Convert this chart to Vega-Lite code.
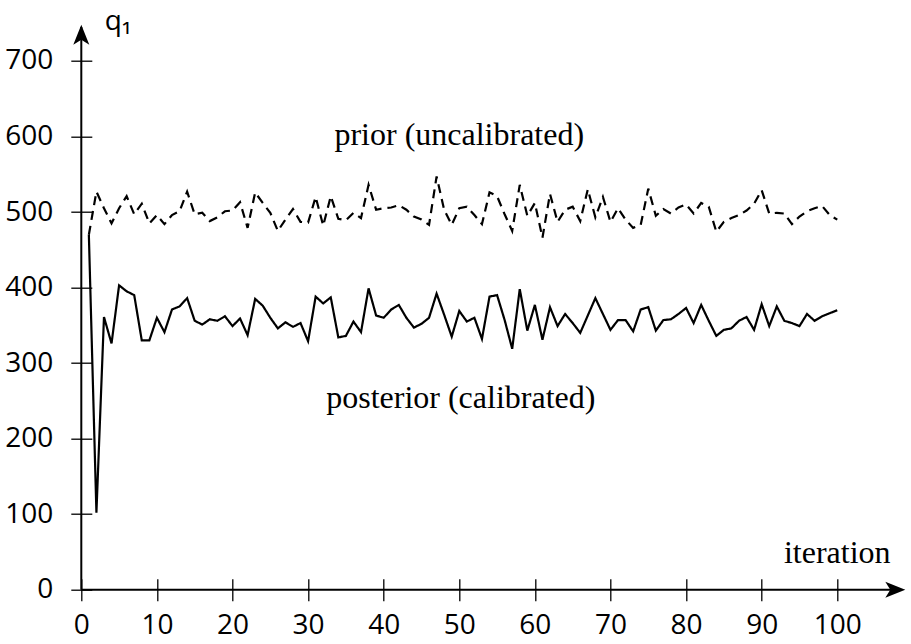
{
 "$schema": "https://vega.github.io/schema/vega-lite/v6.json",
 "width": 824,
 "height": 565,
 "autosize": {"type": "none"},
 "padding": {"left": 81.3, "top": 24.7, "right": 5.7, "bottom": 54.3},
 "background": "white",
 "config": {"view": {"stroke": null}},
 "layer": [
  {
   "data": {"values": [
    {"i":1,"s":"prior","v":470},{"i":2,"s":"prior","v":527},{"i":3,"s":"prior","v":505},{"i":4,"s":"prior","v":485},{"i":5,"s":"prior","v":505},
    {"i":6,"s":"prior","v":521},{"i":7,"s":"prior","v":497},{"i":8,"s":"prior","v":511},{"i":9,"s":"prior","v":485},{"i":10,"s":"prior","v":496},
    {"i":11,"s":"prior","v":484},{"i":12,"s":"prior","v":496},{"i":13,"s":"prior","v":501},{"i":14,"s":"prior","v":527},{"i":15,"s":"prior","v":497},
    {"i":16,"s":"prior","v":499},{"i":17,"s":"prior","v":488},{"i":18,"s":"prior","v":493},{"i":19,"s":"prior","v":501},{"i":20,"s":"prior","v":502},
    {"i":21,"s":"prior","v":513},{"i":22,"s":"prior","v":479},{"i":23,"s":"prior","v":526},{"i":24,"s":"prior","v":512},{"i":25,"s":"prior","v":499},
    {"i":26,"s":"prior","v":475},{"i":27,"s":"prior","v":490},{"i":28,"s":"prior","v":504},{"i":29,"s":"prior","v":487},{"i":30,"s":"prior","v":486},
    {"i":31,"s":"prior","v":520},{"i":32,"s":"prior","v":482},{"i":33,"s":"prior","v":521},{"i":34,"s":"prior","v":491},{"i":35,"s":"prior","v":489},
    {"i":36,"s":"prior","v":499},{"i":37,"s":"prior","v":492},{"i":38,"s":"prior","v":536},{"i":39,"s":"prior","v":503},{"i":40,"s":"prior","v":505},
    {"i":41,"s":"prior","v":506},{"i":42,"s":"prior","v":509},{"i":43,"s":"prior","v":503},{"i":44,"s":"prior","v":494},{"i":45,"s":"prior","v":490},
    {"i":46,"s":"prior","v":483},{"i":47,"s":"prior","v":547},{"i":48,"s":"prior","v":503},{"i":49,"s":"prior","v":483},{"i":50,"s":"prior","v":505},
    {"i":51,"s":"prior","v":507},{"i":52,"s":"prior","v":496},{"i":53,"s":"prior","v":484},{"i":54,"s":"prior","v":526},{"i":55,"s":"prior","v":521},
    {"i":56,"s":"prior","v":497},{"i":57,"s":"prior","v":475},{"i":58,"s":"prior","v":536},{"i":59,"s":"prior","v":495},{"i":60,"s":"prior","v":512},
    {"i":61,"s":"prior","v":466},{"i":62,"s":"prior","v":524},{"i":63,"s":"prior","v":487},{"i":64,"s":"prior","v":503},{"i":65,"s":"prior","v":507},
    {"i":66,"s":"prior","v":488},{"i":67,"s":"prior","v":530},{"i":68,"s":"prior","v":493},{"i":69,"s":"prior","v":520},{"i":70,"s":"prior","v":487},
    {"i":71,"s":"prior","v":505},{"i":72,"s":"prior","v":490},{"i":73,"s":"prior","v":479},{"i":74,"s":"prior","v":483},{"i":75,"s":"prior","v":531},
    {"i":76,"s":"prior","v":495},{"i":77,"s":"prior","v":504},{"i":78,"s":"prior","v":498},{"i":79,"s":"prior","v":506},{"i":80,"s":"prior","v":510},
    {"i":81,"s":"prior","v":498},{"i":82,"s":"prior","v":512},{"i":83,"s":"prior","v":507},{"i":84,"s":"prior","v":474},{"i":85,"s":"prior","v":487},
    {"i":86,"s":"prior","v":492},{"i":87,"s":"prior","v":496},{"i":88,"s":"prior","v":502},{"i":89,"s":"prior","v":511},{"i":90,"s":"prior","v":529},
    {"i":91,"s":"prior","v":498},{"i":92,"s":"prior","v":499},{"i":93,"s":"prior","v":498},{"i":94,"s":"prior","v":484},{"i":95,"s":"prior","v":494},
    {"i":96,"s":"prior","v":501},{"i":97,"s":"prior","v":505},{"i":98,"s":"prior","v":508},{"i":99,"s":"prior","v":496},{"i":100,"s":"prior","v":490},
    {"i":1,"s":"posterior","v":470},{"i":2,"s":"posterior","v":102},{"i":3,"s":"posterior","v":361},{"i":4,"s":"posterior","v":326},{"i":5,"s":"posterior","v":403},
    {"i":6,"s":"posterior","v":395},{"i":7,"s":"posterior","v":390},{"i":8,"s":"posterior","v":330},{"i":9,"s":"posterior","v":330},{"i":10,"s":"posterior","v":360},
    {"i":11,"s":"posterior","v":341},{"i":12,"s":"posterior","v":371},{"i":13,"s":"posterior","v":375},{"i":14,"s":"posterior","v":386},{"i":15,"s":"posterior","v":356},
    {"i":16,"s":"posterior","v":351},{"i":17,"s":"posterior","v":358},{"i":18,"s":"posterior","v":356},{"i":19,"s":"posterior","v":362},{"i":20,"s":"posterior","v":349},
    {"i":21,"s":"posterior","v":359},{"i":22,"s":"posterior","v":337},{"i":23,"s":"posterior","v":385},{"i":24,"s":"posterior","v":376},{"i":25,"s":"posterior","v":360},
    {"i":26,"s":"posterior","v":346},{"i":27,"s":"posterior","v":354},{"i":28,"s":"posterior","v":348},{"i":29,"s":"posterior","v":353},{"i":30,"s":"posterior","v":329},
    {"i":31,"s":"posterior","v":388},{"i":32,"s":"posterior","v":379},{"i":33,"s":"posterior","v":387},{"i":34,"s":"posterior","v":334},{"i":35,"s":"posterior","v":336},
    {"i":36,"s":"posterior","v":355},{"i":37,"s":"posterior","v":341},{"i":38,"s":"posterior","v":399},{"i":39,"s":"posterior","v":363},{"i":40,"s":"posterior","v":360},
    {"i":41,"s":"posterior","v":371},{"i":42,"s":"posterior","v":377},{"i":43,"s":"posterior","v":360},{"i":44,"s":"posterior","v":347},{"i":45,"s":"posterior","v":352},
    {"i":46,"s":"posterior","v":360},{"i":47,"s":"posterior","v":392},{"i":48,"s":"posterior","v":364},{"i":49,"s":"posterior","v":335},{"i":50,"s":"posterior","v":369},
    {"i":51,"s":"posterior","v":355},{"i":52,"s":"posterior","v":360},{"i":53,"s":"posterior","v":332},{"i":54,"s":"posterior","v":388},{"i":55,"s":"posterior","v":390},
    {"i":56,"s":"posterior","v":357},{"i":57,"s":"posterior","v":319},{"i":58,"s":"posterior","v":398},{"i":59,"s":"posterior","v":343},{"i":60,"s":"posterior","v":377},
    {"i":61,"s":"posterior","v":331},{"i":62,"s":"posterior","v":374},{"i":63,"s":"posterior","v":349},{"i":64,"s":"posterior","v":365},{"i":65,"s":"posterior","v":353},
    {"i":66,"s":"posterior","v":340},{"i":67,"s":"posterior","v":363},{"i":68,"s":"posterior","v":386},{"i":69,"s":"posterior","v":365},{"i":70,"s":"posterior","v":344},
    {"i":71,"s":"posterior","v":357},{"i":72,"s":"posterior","v":357},{"i":73,"s":"posterior","v":342},{"i":74,"s":"posterior","v":371},{"i":75,"s":"posterior","v":374},
    {"i":76,"s":"posterior","v":343},{"i":77,"s":"posterior","v":357},{"i":78,"s":"posterior","v":358},{"i":79,"s":"posterior","v":365},{"i":80,"s":"posterior","v":373},
    {"i":81,"s":"posterior","v":353},{"i":82,"s":"posterior","v":377},{"i":83,"s":"posterior","v":356},{"i":84,"s":"posterior","v":336},{"i":85,"s":"posterior","v":344},
    {"i":86,"s":"posterior","v":346},{"i":87,"s":"posterior","v":356},{"i":88,"s":"posterior","v":361},{"i":89,"s":"posterior","v":344},{"i":90,"s":"posterior","v":378},
    {"i":91,"s":"posterior","v":349},{"i":92,"s":"posterior","v":375},{"i":93,"s":"posterior","v":356},{"i":94,"s":"posterior","v":353},{"i":95,"s":"posterior","v":349},
    {"i":96,"s":"posterior","v":365},{"i":97,"s":"posterior","v":356},{"i":98,"s":"posterior","v":362},{"i":99,"s":"posterior","v":366},{"i":100,"s":"posterior","v":370}
   ]},
   "mark": {"type": "line", "color": "black", "strokeWidth": 2.2},
   "encoding": {
    "x": {"field": "i", "type": "quantitative",
     "scale": {"domain": [0, 109], "nice": false, "zero": false},
     "axis": {"values": [0,10,20,30,40,50,60,70,80,90,100], "title": null, "domain": false, "grid": false,
      "offset": -11, "tickSize": 22, "tickColor": "black", "tickWidth": 1.3,
      "labelFont": "Open Sans", "labelFontSize": 28, "labelColor": "black",
      "labelPadding": 11, "labelFlush": false, "labelOverlap": false}},
    "y": {"field": "v", "type": "quantitative",
     "scale": {"domain": [0, 748], "nice": false, "zero": false},
     "axis": {"values": [0,100,200,300,400,500,600,700], "title": null, "domain": false, "grid": false,
      "offset": -10.5, "tickSize": 21, "tickColor": "black", "tickWidth": 1.3,
      "labelFont": "Open Sans", "labelFontSize": 28, "labelColor": "black",
      "labelPadding": 18, "labelOverlap": false}},
    "strokeDash": {"field": "s", "type": "nominal",
     "scale": {"domain": ["prior", "posterior"], "range": [[9, 6], [1, 0]]}, "legend": null}
   }
  },
  {
   "data": {"values": [{}]},
   "mark": {"type": "rule", "color": "black", "strokeWidth": 2},
   "encoding": {"x": {"datum": 0}, "x2": {"datum": 107.5}, "y": {"datum": 0}}
  },
  {
   "data": {"values": [{}]},
   "mark": {"type": "rule", "color": "black", "strokeWidth": 2},
   "encoding": {"x": {"datum": 0}, "y": {"datum": 0}, "y2": {"datum": 745}}
  },
  {
   "data": {"values": [{}]},
   "mark": {"type": "point", "shape": "M0,0 L-2,-0.8 L-1.5,0 L-2,0.8 Z", "size": 400, "filled": true, "color": "black", "opacity": 1, "strokeWidth": 0},
   "encoding": {"x": {"datum": 109}, "y": {"datum": 0}}
  },
  {
   "data": {"values": [{}]},
   "mark": {"type": "point", "shape": "M0,0 L-0.8,2 L0,1.5 L0.8,2 Z", "size": 400, "filled": true, "color": "black", "opacity": 1, "strokeWidth": 0},
   "encoding": {"x": {"datum": 0}, "y": {"datum": 748}}
  },
  {
   "data": {"values": [{}]},
   "mark": {"type": "text", "text": "prior (uncalibrated)", "font": "Liberation Serif", "fontSize": 32, "align": "center", "baseline": "alphabetic", "color": "black"},
   "encoding": {"x": {"datum": 50}, "y": {"datum": 589}}
  },
  {
   "data": {"values": [{}]},
   "mark": {"type": "text", "text": "posterior (calibrated)", "font": "Liberation Serif", "fontSize": 32, "align": "center", "baseline": "alphabetic", "color": "black"},
   "encoding": {"x": {"datum": 50.2}, "y": {"datum": 241}}
  },
  {
   "data": {"values": [{}]},
   "mark": {"type": "text", "text": "iteration", "font": "Liberation Serif", "fontSize": 32, "align": "center", "baseline": "alphabetic", "color": "black"},
   "encoding": {"x": {"datum": 100}, "y": {"datum": 35}}
  },
  {
   "data": {"values": [{}]},
   "mark": {"type": "text", "text": "q₁", "font": "Open Sans, DejaVu Sans", "fontSize": 28, "align": "left", "baseline": "alphabetic", "color": "black"},
   "encoding": {"x": {"datum": 3.1}, "y": {"datum": 741}}
  }
 ]
}
